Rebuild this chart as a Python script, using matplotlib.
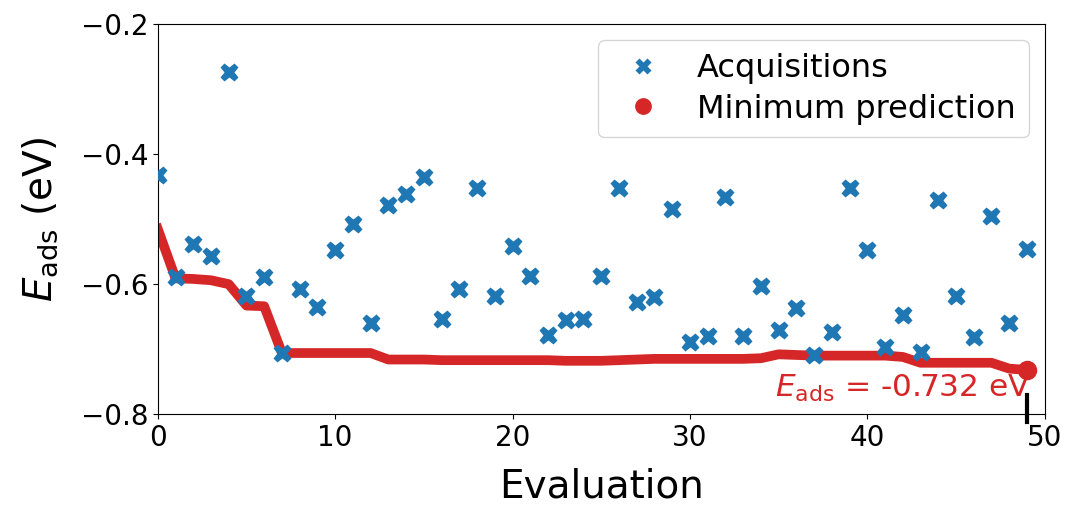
import numpy as np
import matplotlib
matplotlib.use("Agg")
import matplotlib.pyplot as plt

# acquisition energies (eV) per evaluation
evaluations = list(range(50))
acquisitions = [
    -0.432, -0.589, -0.538, -0.557, -0.274, -0.618, -0.589, -0.706, -0.608, -0.635,
    -0.548, -0.508, -0.660, -0.478, -0.462, -0.435, -0.654, -0.608, -0.452, -0.618,
    -0.542, -0.588, -0.678, -0.655, -0.654, -0.588, -0.452, -0.628, -0.620, -0.485,
    -0.689, -0.680, -0.466, -0.680, -0.603, -0.671, -0.637, -0.709, -0.674, -0.452,
    -0.548, -0.697, -0.648, -0.705, -0.471, -0.618, -0.682, -0.495, -0.660, -0.546,
]
# running minimum of model prediction
min_prediction = [
    -0.515, -0.591, -0.592, -0.594, -0.600, -0.633, -0.634, -0.706, -0.706, -0.706,
    -0.706, -0.706, -0.706, -0.716, -0.716, -0.716, -0.717, -0.717, -0.717, -0.717,
    -0.717, -0.717, -0.717, -0.718, -0.718, -0.718, -0.717, -0.716, -0.715, -0.715,
    -0.715, -0.715, -0.715, -0.715, -0.714, -0.708, -0.709, -0.710, -0.710, -0.710,
    -0.710, -0.710, -0.712, -0.721, -0.721, -0.721, -0.721, -0.721, -0.730, -0.732,
]
final_value = -0.732

blue = "#1f77b4"
red = "#d62728"

fig = plt.figure(figsize=(10.66, 5.05), dpi=100)
ax = fig.add_axes([0.148, 0.180, 0.832, 0.772])

ax.plot(evaluations, acquisitions, "X", color=blue, ms=13.5, mec="none",
        linestyle="none", label="Acquisitions", zorder=3)
ax.plot(evaluations, min_prediction, "-", color=red, lw=7, zorder=2)

best = evaluations[-1]
ax.plot([best], [final_value], "o", color=red, ms=13, zorder=4)
# legend handle for the red dot
ax.plot([], [], "o", color=red, ms=13, linestyle="none", label="Minimum prediction")

ax.set_xlim(0, 50)
ax.set_ylim(-0.8, -0.2)
ax.set_xticks([0, 10, 20, 30, 40, 50])
ax.set_yticks([-0.8, -0.6, -0.4, -0.2])
ax.tick_params(labelsize=20)

# marker tick at the best evaluation
ax.plot([best, best], [-0.771, -0.812], color="k", lw=3, clip_on=False, zorder=5)

ax.text(best + 0.25, -0.737, r"$E_{\mathrm{ads}}$ = %.3f eV" % final_value,
        color=red, fontsize=22.5, ha="right", va="top")

ax.set_xlabel("Evaluation", fontsize=28, labelpad=11)
ax.set_ylabel(r"$E_{\mathrm{ads}}$ (eV)", fontsize=28, labelpad=15)

ax.legend(loc="upper right", fontsize=23, handletextpad=0.7, borderpad=0.4,
          labelspacing=0.3, markerscale=0.85)

fig.savefig("out.png", dpi=100)
